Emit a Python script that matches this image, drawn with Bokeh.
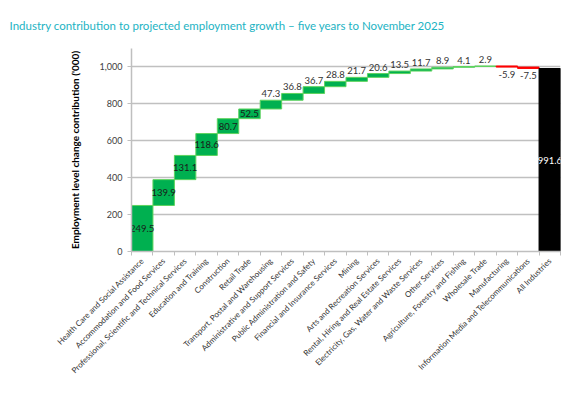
import numpy as np
from bokeh.plotting import figure
from bokeh.models import ColumnDataSource, FixedTicker, NumeralTickFormatter, Range1d
from bokeh.embed import file_html
from bokeh.resources import INLINE
from math import pi

industries = [
    "Health Care and Social Assistance",
    "Accommodation and Food Services",
    "Professional, Scientific and Technical Services",
    "Education and Training",
    "Construction",
    "Retail Trade",
    "Transport, Postal and Warehousing",
    "Administrative and Support Services",
    "Public Administration and Safety",
    "Financial and Insurance Services",
    "Mining",
    "Arts and Recreation Services",
    "Rental, Hiring and Real Estate Services",
    "Electricity, Gas, Water and Waste Services",
    "Other Services",
    "Agriculture, Forestry and Fishing",
    "Wholesale Trade",
    "Manufacturing",
    "Information Media and Telecommunications",
]
changes = [249.5, 139.9, 131.1, 118.6, 80.7, 52.5, 47.3, 36.8, 36.7, 28.8,
           21.7, 20.6, 13.5, 11.7, 8.9, 4.1, 2.9, -5.9, -7.5]
total_label = "All Industries"
total_value = 991.6
y_ticks = [0, 200, 400, 600, 800, 1000]

FONT = "Lato"
n = len(industries)
xs = list(range(n + 1))
ends = np.cumsum(changes)
starts = ends - np.array(changes)
bottoms = list(np.minimum(starts, ends)) + [0.0]
tops = list(np.maximum(starts, ends)) + [total_value]
vals = changes + [total_value]
fills = ["#00B050" if v > 0 else "#FF0000" for v in changes] + ["#000000"]
lines = ["#5FD35F" if v > 0 else "#FF0000" for v in changes] + ["#000000"]

src = ColumnDataSource(dict(x=xs, bottom=bottoms, top=tops, fill=fills, line=lines))

# label positions
lx_in, ly_in, lt_in, lc_in = [], [], [], []
lx_up, ly_up, lt_up = [], [], []
lx_dn, ly_dn, lt_dn = [], [], []
for i, v in enumerate(vals):
    txt = f"{v:.1f}"
    if i == n:
        lx_in.append(i); ly_in.append((bottoms[i] + tops[i]) / 2); lt_in.append(txt); lc_in.append("#ffffff")
    elif abs(v) >= 50:
        lx_in.append(i); ly_in.append((bottoms[i] + tops[i]) / 2); lt_in.append(txt); lc_in.append("#1a1a1a")
    elif v > 0:
        lx_up.append(i); ly_up.append(tops[i]); lt_up.append(txt)
    else:
        lx_dn.append(i); ly_dn.append(bottoms[i]); lt_dn.append(txt)

p = figure(frame_width=429, frame_height=203, output_backend="svg", toolbar_location=None,
           x_range=Range1d(-0.5, n + 0.5), y_range=Range1d(0, 1100),
           min_border_left=131, min_border_right=5, min_border_top=8, min_border_bottom=0)
p.outline_line_color = None
p.background_fill_color = "white"

p.title.text = "Industry contribution to projected employment growth \u2013 five years to November 2025"
p.title.text_color = "#1CB3C3"
p.title.text_font = FONT
p.title.text_font_style = "normal"
p.title.text_font_size = "11.5px"
p.title.align = "left"
p.title.offset = -122
p.title.standoff = 33

p.vbar(x="x", bottom="bottom", top="top", width=1.0, fill_color="fill", line_color="line",
       line_width=1, source=src)

p.text(x=lx_in, y=ly_in, text=lt_in, text_color=lc_in, text_align="center", text_baseline="middle",
       text_font_size="9.5px", text_font={"value": FONT})
p.text(x=lx_up, y=ly_up, text=lt_up, text_color="#333333", text_align="center", text_baseline="bottom",
       text_font_size="9.5px", text_font={"value": FONT}, y_offset=-3)
p.text(x=lx_dn, y=ly_dn, text=lt_dn, text_color="#333333", text_align="center", text_baseline="top",
       text_font_size="9.5px", text_font={"value": FONT}, y_offset=4)

# x axis
xa = p.xaxis[0]
xa.ticker = FixedTicker(ticks=xs, minor_ticks=[x - 0.5 for x in xs] + [n + 0.5])
xa.major_label_overrides = {i: name for i, name in enumerate(industries + [total_label])}
xa.major_label_orientation = pi / 4
xa.major_label_text_font = FONT
xa.major_label_text_font_size = "8px"
xa.major_label_text_color = "#333333"
xa.major_tick_line_color = None
xa.minor_tick_out = 4
xa.minor_tick_in = 0
xa.minor_tick_line_color = "#BFBFBF"
xa.axis_line_color = "#BFBFBF"
xa.axis_line_width = 1.5
xa.major_label_standoff = 2

# y axis
ya = p.yaxis[0]
ya.ticker = FixedTicker(ticks=y_ticks)
ya.formatter = NumeralTickFormatter(format="0,0")
ya.major_label_text_font = FONT
ya.major_label_text_font_size = "9px"
ya.major_label_text_color = "#404040"
ya.axis_line_color = "#BFBFBF"
ya.axis_line_width = 1.5
ya.major_tick_line_color = "#BFBFBF"
ya.major_tick_out = 4
ya.major_tick_in = 0
ya.minor_tick_line_color = None
ya.axis_label = "Employment level change contribution ('000)"
ya.axis_label_text_font = FONT
ya.axis_label_text_font_style = "bold"
ya.axis_label_text_font_size = "10px"
ya.axis_label_text_color = "#000000"
ya.axis_label_standoff = 16

p.xgrid.grid_line_color = None
p.ygrid.grid_line_color = "#C0C0C0"
p.ygrid.grid_line_width = 1.5

open("out.html", "w").write(file_html(p, INLINE))
